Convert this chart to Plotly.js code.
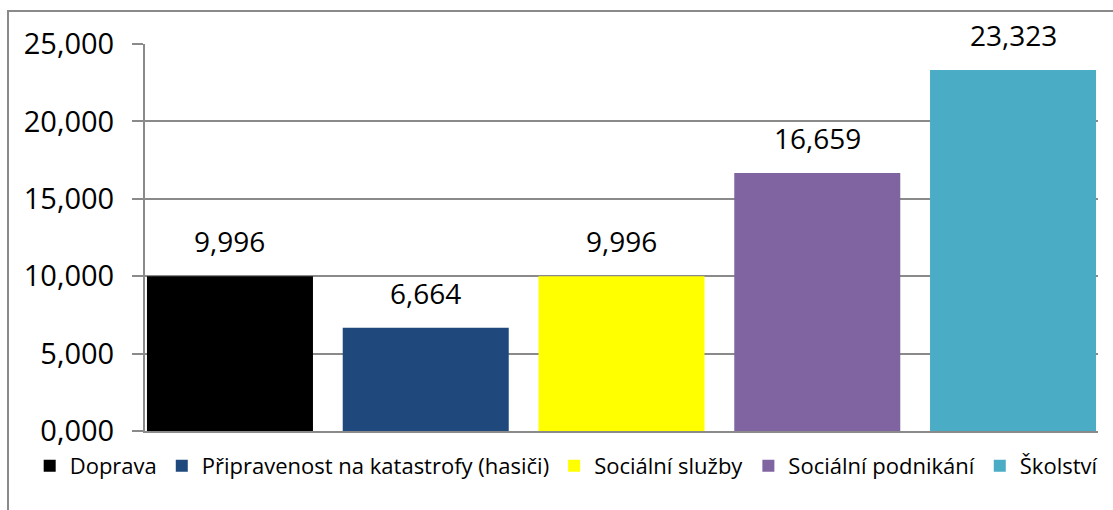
<!DOCTYPE html>
<html>
<head>
<meta charset="utf-8">
<script src="https://cdn.plot.ly/plotly-3.0.1.min.js"></script>
<style>
  html, body { margin: 0; padding: 0; background: #ffffff; }
  #wrap { position: relative; width: 1113px; height: 510px; overflow: hidden; }
  #chart { position: absolute; left: 0; top: 0; width: 1113px; height: 510px; }
  #frame { position: absolute; left: 7px; top: 10px; width: 1200px; height: 600px;
           border: 2px solid #8a8a8a; pointer-events: none; box-sizing: border-box; }
</style>
</head>
<body>
<div id="wrap">
  <div id="chart"></div>
  <div id="frame"></div>
</div>
<script>
// Data
const categories = ["Doprava", "Připravenost na katastrofy (hasiči)", "Sociální služby", "Sociální podnikání", "Školství"];
const values = [9.996, 6.664, 9.996, 16.659, 23.323];
const colors = ["#000000", "#1F497D", "#FFFF00", "#8064A2", "#4BACC6"];
const yTickValues = [0, 5, 10, 15, 20, 25];

const fmt = v => v.toFixed(3).replace('.', ',');

const traces = categories.map((c, i) => ({
  type: 'bar',
  name: c,
  x: [c],
  y: [values[i]],
  marker: { color: colors[i], line: { width: 0 } },
  hoverinfo: 'x+y'
}));

const annotations = categories.map((c, i) => ({
  x: c,
  y: values[i],
  xref: 'x',
  yref: 'y',
  text: fmt(values[i]),
  showarrow: false,
  yanchor: 'bottom',
  yshift: 14,
  font: { family: 'Open Sans', size: 28, color: '#000000' }
}));

const layout = {
  width: 1113,
  height: 510,
  margin: { l: 145, r: 15, t: 44, b: 79, pad: 0 },
  paper_bgcolor: '#ffffff',
  plot_bgcolor: '#ffffff',
  separators: ',.',
  barmode: 'overlay',
  bargap: 0.152,
  showlegend: true,
  legend: {
    orientation: 'h',
    x: -0.121,
    xanchor: 'left',
    y: -0.09,
    yanchor: 'middle',
    font: { family: 'Open Sans', size: 22, color: '#000000' },
    traceorder: 'normal',
    bgcolor: 'rgba(0,0,0,0)'
  },
  xaxis: {
    type: 'category',
    categoryorder: 'array',
    categoryarray: categories,
    range: [-0.434, 4.434],
    showticklabels: false,
    ticks: '',
    showgrid: false,
    zeroline: false,
    showline: true,
    linecolor: '#8a8a8a',
    linewidth: 2,
    fixedrange: true
  },
  yaxis: {
    range: [0, 25],
    tickvals: yTickValues,
    tickformat: '.3f',
    ticks: 'outside',
    ticklen: 11,
    tickwidth: 2,
    tickcolor: '#8a8a8a',
    showgrid: true,
    gridcolor: '#8a8a8a',
    gridwidth: 2,
    zeroline: false,
    showline: true,
    linecolor: '#8a8a8a',
    linewidth: 2,
    tickfont: { family: 'Open Sans', size: 29, color: '#000000' },
    ticklabelstandoff: 12,
    fixedrange: true
  },
  annotations: annotations
};

Plotly.newPlot('chart', traces, layout, { displayModeBar: false, staticPlot: true });
</script>
</body>
</html>
